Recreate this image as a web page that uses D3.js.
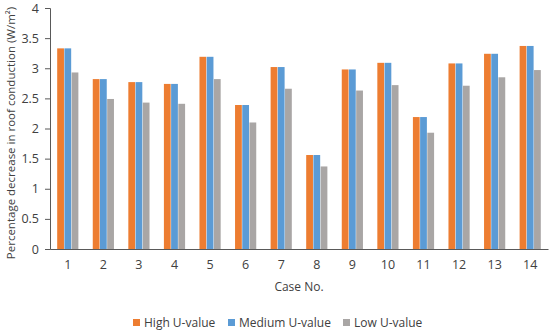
<!DOCTYPE html>
<html lang="en">
	<head>
		<meta charset="utf-8">
		<title>Roof conduction decrease by case</title>
		<script type="text/javascript" src="https://d3js.org/d3.v7.min.js"></script>
		<style type="text/css">
			body { margin: 0; background: #fff; }
			text { font-family: "Open Sans", "Liberation Sans", sans-serif; fill: #404040; }
		</style>
	</head>
	<body>
		<script type="text/javascript">

			//Data
			var cases = ["1","2","3","4","5","6","7","8","9","10","11","12","13","14"];
			var seriesNames = ["High U-value", "Medium U-value", "Low U-value"];
			var highU   = [3.33, 2.82, 2.77, 2.74, 3.19, 2.39, 3.02, 1.56, 2.98, 3.09, 2.19, 3.08, 3.24, 3.37];
			var mediumU = [3.33, 2.82, 2.77, 2.74, 3.19, 2.39, 3.02, 1.56, 2.98, 3.09, 2.19, 3.08, 3.24, 3.37];
			var lowU    = [2.93, 2.49, 2.43, 2.41, 2.82, 2.10, 2.66, 1.37, 2.63, 2.72, 1.93, 2.71, 2.85, 2.97];
			var yTicks  = [0, 0.5, 1, 1.5, 2, 2.5, 3, 3.5, 4];
			var colors  = ["#ED7D31", "#5B9BD5", "#A9A6A5"];

			var series = [highU, mediumU, lowU];

			//Width and height
			var w = 550;
			var h = 334;
			var margin = {top: 8, right: 2, bottom: 85, left: 50};

			var svg = d3.select("body")
				.append("svg")
				.attr("width", w)
				.attr("height", h);

			var x = d3.scaleBand()
				.domain(cases)
				.range([margin.left, w - margin.right])
				.paddingInner(0.38)
				.paddingOuter(0.19);

			var xs = d3.scaleBand()
				.domain(d3.range(series.length))
				.range([0, x.bandwidth()])
				.padding(0.06);

			var y = d3.scaleLinear()
				.domain([0, 4])
				.range([h - margin.bottom, margin.top]);

			//Bars
			series.forEach(function(vals, s) {
				svg.append("g")
					.selectAll("rect")
					.data(vals)
					.enter()
					.append("rect")
					.attr("x", function(d, i) { return x(cases[i]) + xs(s); })
					.attr("y", function(d) { return y(d); })
					.attr("width", xs.bandwidth())
					.attr("height", function(d) { return y(0) - y(d); })
					.attr("fill", colors[s]);
			});

			//Y axis
			var yAxis = svg.append("g")
				.attr("transform", "translate(" + margin.left + ",0)")
				.call(d3.axisLeft(y).tickValues(yTicks).tickSize(5).tickPadding(6)
					.tickFormat(function(d) { return d; }));
			yAxis.selectAll("path, line").attr("stroke", "#595959");
			yAxis.selectAll("text").style("font-size", "12.5px").attr("fill", "#404040");

			//X axis
			var xAxis = svg.append("g")
				.attr("transform", "translate(0," + y(0) + ")")
				.call(d3.axisBottom(x).tickSize(0).tickPadding(11).tickSizeOuter(0));
			xAxis.select("path").attr("stroke", "#595959");
			xAxis.selectAll("text").style("font-size", "12.5px").attr("fill", "#404040");

			//Axis titles
			svg.append("text")
				.attr("x", (margin.left + w - margin.right) / 2)
				.attr("y", 291)
				.attr("text-anchor", "middle")
				.style("font-size", "12px")
				.text("Case No.");

			svg.append("text")
				.attr("transform", "translate(15,133) rotate(-90)")
				.attr("text-anchor", "middle")
				.style("font-size", "11.5px")
				.text("Percentage decrease in roof conduction (W/m²)");

			//Legend
			var legendX = [133, 228, 343];
			var legend = svg.append("g")
				.selectAll("g")
				.data(seriesNames)
				.enter()
				.append("g")
				.attr("transform", function(d, i) { return "translate(" + legendX[i] + ",319)"; });

			legend.append("rect")
				.attr("width", 7)
				.attr("height", 7)
				.attr("fill", function(d, i) { return colors[i]; });

			legend.append("text")
				.attr("x", 11)
				.attr("y", 7.5)
				.style("font-size", "12px")
				.text(function(d) { return d; });

		</script>
	</body>
</html>
